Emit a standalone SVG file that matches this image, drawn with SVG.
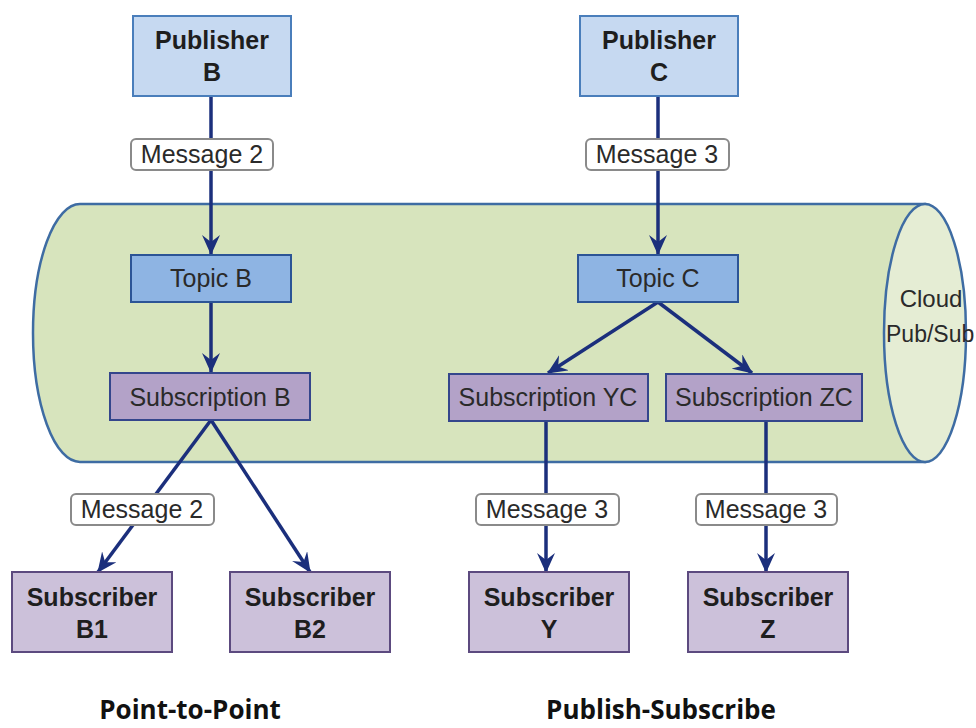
<svg xmlns="http://www.w3.org/2000/svg" width="976" height="728" viewBox="0 0 976 728">
  <style>
    .pub { fill: #c6d9f1; stroke: #4a7ebb; stroke-width: 2; }
    .topic { fill: #8eb4e3; stroke: #2c5496; stroke-width: 2; }
    .subn { fill: #b3a2c8; stroke: #34468c; stroke-width: 2; }
    .subr { fill: #ccc1da; stroke: #5c4a7f; stroke-width: 2; }
    .msg { fill: #ffffff; stroke: #8a8a8a; stroke-width: 2; }
    .t { font-family: "Liberation Sans", Arial, sans-serif; font-size: 25px; fill: #2a2a2a; text-anchor: middle; }
    .b { font-weight: bold; fill: #1e1e1e; }
    .cap { font-family: "Open Sans", "Liberation Sans", sans-serif; font-size: 26px; font-weight: bold; fill: #111; text-anchor: middle; }
    .edge { stroke: #1b2f7c; stroke-width: 3.5; fill: none; marker-end: url(#arr); }
  </style>
  <defs>
    <marker id="arr" viewBox="0 0 20 18" refX="19" refY="9" markerWidth="20" markerHeight="18" markerUnits="userSpaceOnUse" orient="auto">
      <path d="M0,0 L20,9 L0,18 L7,9 Z" fill="#1b2f7c"/>
    </marker>
  </defs>

  <rect width="976" height="728" fill="#ffffff"/>

  <!-- Cloud Pub/Sub cylinder -->
  <g id="cloud">
    <path d="M925,204 L80,204 A47,129 0 0 0 80,462 L925,462 Z" fill="#d7e4bd" stroke="#3e6ca3" stroke-width="2.5"/>
    <ellipse cx="925" cy="333" rx="41" ry="129" fill="#e5edd4" stroke="#3e6ca3" stroke-width="2.5"/>
    <text class="t" x="931" y="307" style="font-size:24px">Cloud</text>
    <text class="t" x="886" y="342" style="text-anchor:start;font-size:23px">Pub/Sub</text>
  </g>

  <!-- connectors -->
  <g id="connectors">
    <line class="edge" x1="211" y1="96" x2="211" y2="254"/>
    <line class="edge" x1="211" y1="302" x2="211" y2="372"/>
    <line class="edge" x1="211" y1="420" x2="98" y2="572"/>
    <line class="edge" x1="211" y1="420" x2="310" y2="572"/>
    <line class="edge" x1="658" y1="96" x2="658" y2="254"/>
    <line class="edge" x1="658" y1="302" x2="548" y2="373"/>
    <line class="edge" x1="658" y1="302" x2="752" y2="373"/>
    <line class="edge" x1="546" y1="421" x2="546" y2="572"/>
    <line class="edge" x1="766" y1="421" x2="766" y2="572"/>
  </g>

  <!-- message labels -->
  <g id="msg-b-top">
    <rect class="msg" x="131" y="139" width="142" height="31" rx="5"/>
    <text class="t" x="202" y="163">Message 2</text>
  </g>
  <g id="msg-c-top">
    <rect class="msg" x="586" y="139" width="143" height="31" rx="5"/>
    <text class="t" x="657" y="163">Message 3</text>
  </g>
  <g id="msg-b-low">
    <rect class="msg" x="71" y="494" width="143" height="31" rx="5"/>
    <text class="t" x="142" y="518">Message 2</text>
  </g>
  <g id="msg-y">
    <rect class="msg" x="476" y="494" width="143" height="31" rx="5"/>
    <text class="t" x="547" y="518">Message 3</text>
  </g>
  <g id="msg-z">
    <rect class="msg" x="696" y="494" width="141" height="31" rx="5"/>
    <text class="t" x="766" y="518">Message 3</text>
  </g>

  <!-- publishers -->
  <g id="publisher-b">
    <rect class="pub" x="133" y="16" width="158" height="80"/>
    <text class="t b" x="212" y="49">Publisher</text>
    <text class="t b" x="212" y="81">B</text>
  </g>
  <g id="publisher-c">
    <rect class="pub" x="580" y="16" width="158" height="80"/>
    <text class="t b" x="659" y="49">Publisher</text>
    <text class="t b" x="659" y="81">C</text>
  </g>

  <!-- topics -->
  <g id="topic-b">
    <rect class="topic" x="131" y="255" width="160" height="47"/>
    <text class="t" x="211" y="287">Topic B</text>
  </g>
  <g id="topic-c">
    <rect class="topic" x="578" y="255" width="160" height="47"/>
    <text class="t" x="658" y="287">Topic C</text>
  </g>

  <!-- subscriptions -->
  <g id="subscription-b">
    <rect class="subn" x="110" y="373" width="200" height="47"/>
    <text class="t" x="210" y="406">Subscription B</text>
  </g>
  <g id="subscription-yc">
    <rect class="subn" x="449" y="374" width="199" height="47"/>
    <text class="t" x="548" y="406">Subscription YC</text>
  </g>
  <g id="subscription-zc">
    <rect class="subn" x="666" y="374" width="196" height="47"/>
    <text class="t" x="764" y="406">Subscription ZC</text>
  </g>

  <!-- subscribers -->
  <g id="subscriber-b1">
    <rect class="subr" x="12" y="572" width="160" height="80"/>
    <text class="t b" x="92" y="606">Subscriber</text>
    <text class="t b" x="92" y="638">B1</text>
  </g>
  <g id="subscriber-b2">
    <rect class="subr" x="230" y="572" width="160" height="80"/>
    <text class="t b" x="310" y="606">Subscriber</text>
    <text class="t b" x="310" y="638">B2</text>
  </g>
  <g id="subscriber-y">
    <rect class="subr" x="469" y="572" width="160" height="80"/>
    <text class="t b" x="549" y="606">Subscriber</text>
    <text class="t b" x="549" y="638">Y</text>
  </g>
  <g id="subscriber-z">
    <rect class="subr" x="688" y="572" width="160" height="80"/>
    <text class="t b" x="768" y="606">Subscriber</text>
    <text class="t b" x="768" y="638">Z</text>
  </g>

  <!-- section captions -->
  <text class="cap" x="190" y="719">Point-to-Point</text>
  <text class="cap" x="661" y="719">Publish-Subscribe</text>
</svg>
